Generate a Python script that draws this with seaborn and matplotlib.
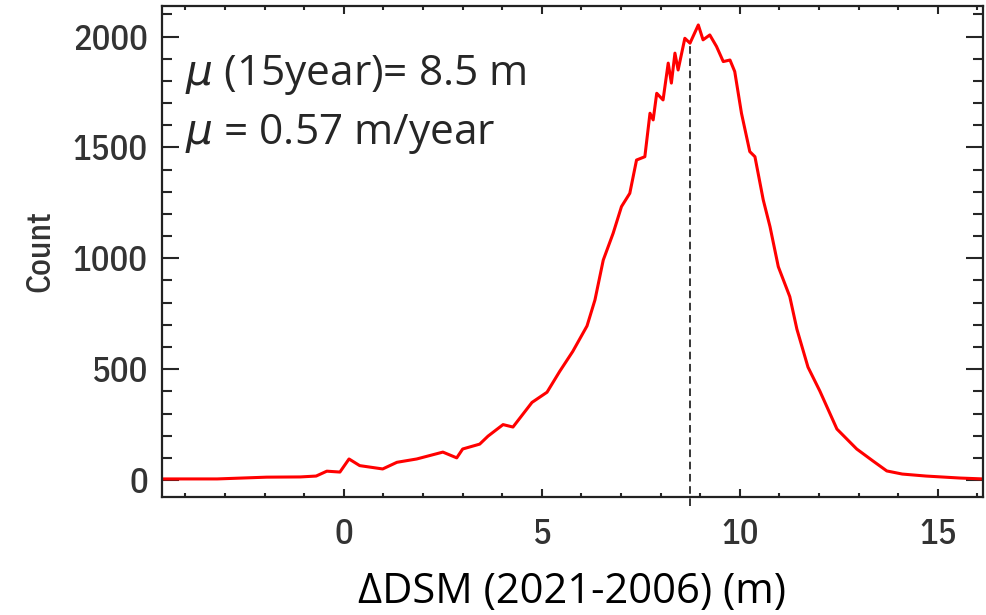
import pandas as pd
import seaborn as sns
import matplotlib.pyplot as plt

# DSM difference histogram
dsm_diff = [-4.6, -3.2, -1.95, -1.1, -0.7, -0.43, -0.1, 0.13, 0.4, 0.98, 1.34, 1.84,
            2.5, 2.85, 3.0, 3.43, 3.64, 4.02, 4.27, 4.75, 5.13, 5.45, 5.78, 6.14,
            6.34, 6.55, 6.8, 7.01, 7.22, 7.39, 7.6, 7.73, 7.81, 7.9, 8.06, 8.19,
            8.27, 8.36, 8.44, 8.61, 8.74, 8.95, 9.07, 9.24, 9.41, 9.58, 9.75, 9.87,
            10.04, 10.25, 10.38, 10.59, 10.76, 10.97, 11.26, 11.44, 11.72, 12.02,
            12.45, 12.95, 13.36, 13.71, 14.1, 14.7, 15.56, 16.14]
counts = [5, 5, 13, 14, 18, 40, 36, 95, 65, 50, 80, 95,
          126, 100, 140, 162, 198, 250, 239, 350, 396, 490, 580, 695,
          812, 992, 1113, 1233, 1293, 1443, 1458, 1654, 1624, 1744, 1714, 1880,
          1790, 1925, 1849, 1992, 1970, 2052, 1985, 2007, 1955, 1887, 1894, 1842,
          1654, 1481, 1458, 1263, 1143, 962, 827, 680, 509, 401,
          230, 140, 86, 41, 27, 18, 9, 5]
mean_diff = 8.74
xticks = [0, 5, 10, 15]
yticks = [0, 500, 1000, 1500, 2000]
annotations = [r"$\mu$ (15year)= 8.5 m", r"$\mu$ = 0.57 m/year"]

df = pd.DataFrame({"dsm": dsm_diff, "count": counts})

sns.set_style("ticks")
plt.rcParams['font.family'] = ['Open Sans', 'DejaVu Sans']
plt.rcParams['mathtext.fontset'] = 'dejavusans'

fig = plt.figure(figsize=(9.86, 6.15), dpi=100)
ax = fig.add_axes([0.164, 0.1924, 0.833, 0.798])

sns.lineplot(data=df, x="dsm", y="count", color="#ff0000", linewidth=2.2, ax=ax)
ax.plot([mean_diff, mean_diff], [-115, 1970], color="black", linestyle=(0, (5, 3)),
        linewidth=1.1, clip_on=False)

ax.set_xlim(-4.6, 16.14)
ax.set_ylim(-75, 2138)
ax.set_xticks(xticks)
ax.set_yticks(yticks)
ax.set_xticks([x for x in range(-4, 17) if x % 5 != 0], minor=True)
ax.set_yticks([y for y in range(0, 2101, 100) if y % 500 != 0], minor=True)

cond = ['IBM Plex Sans Condensed', 'Liberation Sans', 'DejaVu Sans']
tick_font = dict(family=cond, size=25, color='#333333', weight='medium')
ax.set_xticklabels([str(t) for t in xticks], fontdict=tick_font)
ax.set_yticklabels([str(t) for t in yticks], fontdict=tick_font)

ax.tick_params(axis='x', which='major', direction='in', length=6, width=1.5, top=True, pad=15)
ax.tick_params(axis='x', which='minor', direction='in', length=3, width=1.5, top=True)
ax.tick_params(axis='y', which='major', direction='in', length=12, width=1.5, right=True, pad=10)
ax.tick_params(axis='y', which='minor', direction='in', length=7, width=1.5, right=True)
for s in ax.spines.values():
    s.set_linewidth(1.6)
    s.set_color('#222222')

ax.set_xlabel("ΔDSM (2021-2006) (m)", fontsize=30, color='black', labelpad=15)
ax.set_ylabel("Count", fontdict=dict(family=cond, size=24, color='#333333', weight='medium'),
              labelpad=12)

ax.text(0.028, 0.838, annotations[0], transform=ax.transAxes, fontsize=30.5, va='baseline')
ax.text(0.028, 0.718, annotations[1], transform=ax.transAxes, fontsize=30.5, va='baseline')

fig.savefig("out.png", dpi=100)
